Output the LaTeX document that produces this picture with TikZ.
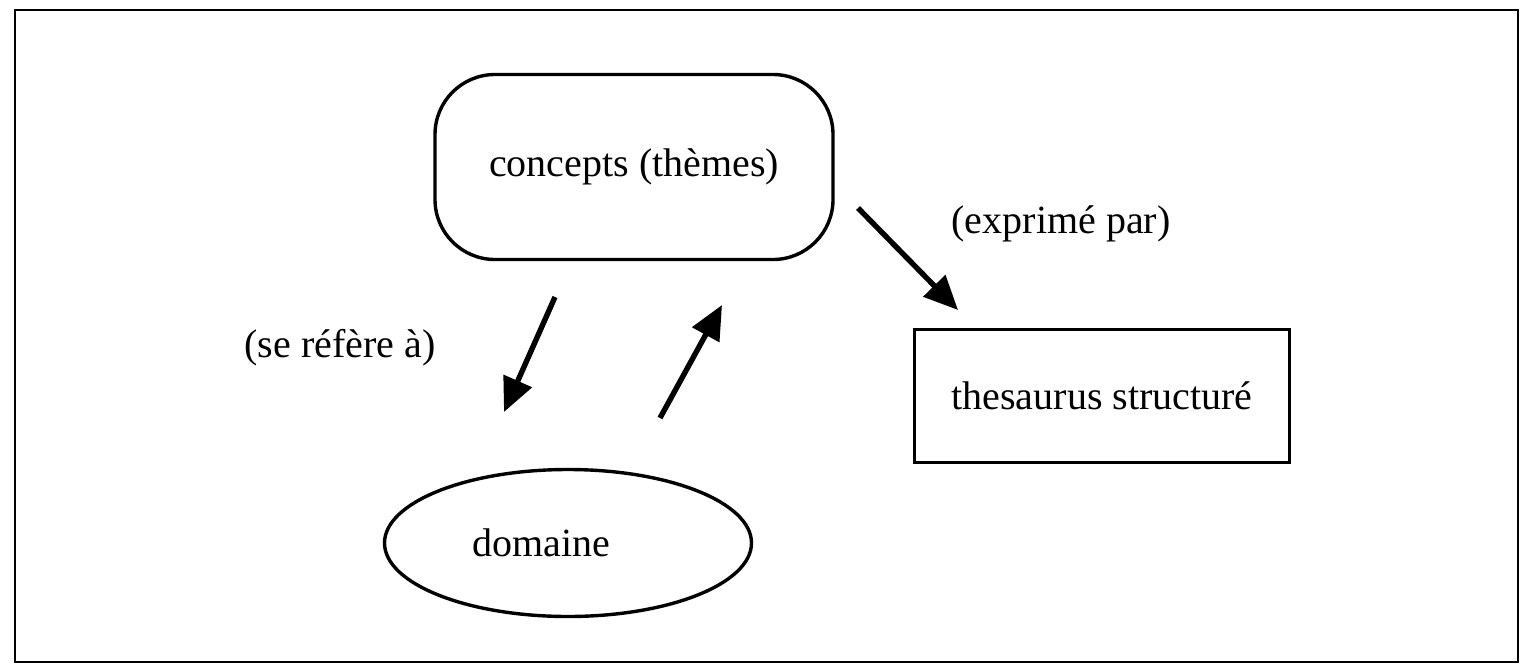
\documentclass[tikz,border=0pt]{standalone}
\usepackage{fontspec}
\setmainfont{Liberation Serif}
\usetikzlibrary{shapes.geometric,arrows.meta}
\begin{document}
\begin{tikzpicture}[x=0.5pt,y=-0.5pt,
	every node/.style={font=\fontsize{20}{24}\selectfont},
	every label/.style={font=\fontsize{20}{24}\selectfont},
	box/.style={draw,line width=1.7pt,inner sep=0pt},
	link/.style={line width=2.7pt,-{Triangle[length=17pt,width=15pt]}}]
	\useasboundingbox (0,0) rectangle (1525,664);
	\draw[line width=1.4pt] (15,10) rectangle (1518,662);
	% nodes
	\node[box,rounded corners=30pt,minimum width=199pt,minimum height=92.5pt] (concepts) at (634,167) {concepts (thèmes)};
	\node[box,minimum width=187.5pt,minimum height=66.5pt] (thesaurus) at (1102,396) {thesaurus structuré};
	\node[box,ellipse,minimum width=183.5pt,minimum height=73.5pt,label={[xshift=-13.5pt]center:domaine}] (domaine) at (568,543) {};
	\node (refere) at (340,348) {(se réfère à)};
	\node (exprime) at (1061,224) {(exprimé par)};
	% arrow ends
	\coordinate (a1) at (555,297);
	\coordinate (b1) at (504,412);
	\coordinate (a2) at (660,418);
	\coordinate (b2) at (722,305);
	\coordinate (a3) at (858,208);
	\coordinate (b3) at (958,310);
	\draw[link] (a1) -- (b1);
	\draw[link] (a2) -- (b2);
	\draw[link] (a3) -- (b3);
\end{tikzpicture}
\end{document}
